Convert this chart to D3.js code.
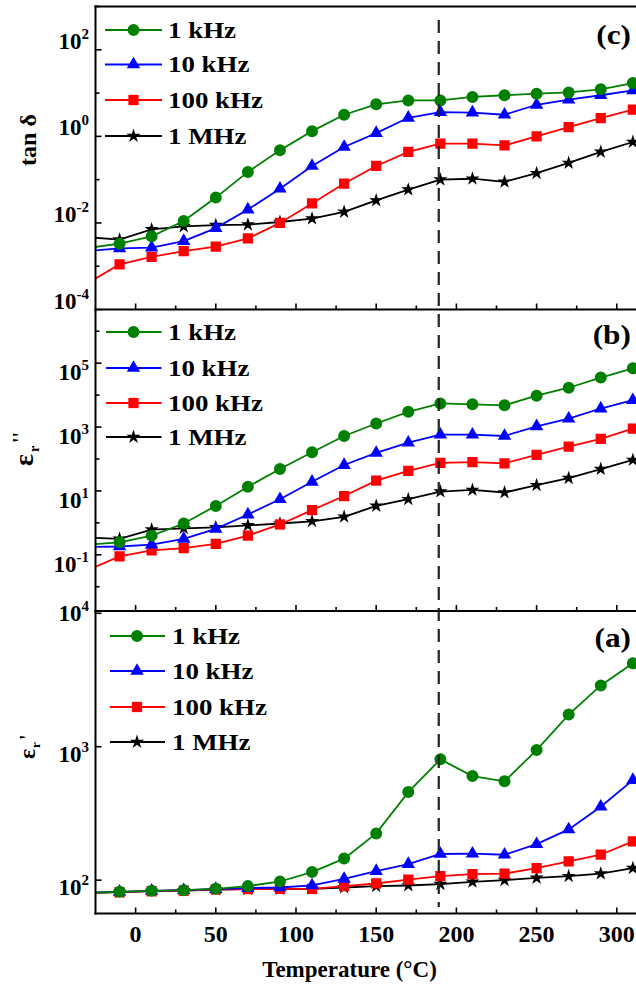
<!DOCTYPE html>
<html><head><meta charset="utf-8">
<script src="https://cdn.jsdelivr.net/npm/d3@7"></script>
<style>
body{margin:0;background:#fff}
svg{display:block}
text{font-family:"Liberation Serif","Times New Roman",serif;font-weight:bold;fill:#000}
</style>
</head><body>
<svg id="chart" width="636" height="984"></svg>
<script>
// ---------- data ----------
const temperatures = [-30,-10,10,30,50,70,90,110,130,150,170,190,210,230,250,270,290,310];
const seriesNames = ["1 kHz","10 kHz","100 kHz","1 MHz"];
const transitionTemperature = 189;
const xTickValues = [0,25,50,75,100,125,150,175,200,225,250,275,300];
const xTickLabels = [0,50,100,150,200,250,300];

// (c) tan delta
const tanDelta_1kHz   = [2.63e-3,3.31e-3,4.90e-3,1.11e-2,3.85e-2,0.151,0.479,1.32,3.16,5.50,6.76,6.76,8.13,8.91,9.66,10.35,12.2,17.0];
const tanDelta_10kHz  = [2.24e-3,2.57e-3,2.69e-3,3.80e-3,7.59e-3,2.04e-2,6.17e-2,0.207,0.569,1.19,2.69,3.63,3.55,3.16,5.37,7.08,8.91,11.5];
const tanDelta_100kHz = [4.03e-4,1.11e-3,1.64e-3,2.24e-3,2.82e-3,4.37e-3,1.00e-2,2.82e-2,8.13e-2,0.207,0.437,0.676,0.676,0.617,1.00,1.64,2.63,4.12];
const tanDelta_1MHz   = [4.68e-3,4.12e-3,7.08e-3,8.32e-3,8.91e-3,9.12e-3,1.05e-2,1.26e-2,1.80e-2,3.31e-2,5.89e-2,0.100,0.105,8.91e-2,0.141,0.243,0.437,0.741];

// (b) epsilon''
const epsImag_1kHz   = [0.209,0.245,0.398,0.955,3.39,13.5,48.4,162,525,1290,2990,5500,5130,4790,9550,17000,35500,69200];
const epsImag_10kHz  = [0.174,0.182,0.209,0.316,0.646,1.82,5.50,19.3,64.6,155,324,575,575,525,1050,1820,3800,6920];
const epsImag_100kHz = [0.0331,0.0891,0.138,0.162,0.219,0.398,0.891,2.51,6.92,20.9,42.7,75.0,79.4,73.3,135,245,427,891];
const epsImag_1MHz   = [0.347,0.316,0.617,0.676,0.724,0.832,0.955,1.12,1.55,3.39,5.50,9.55,10.7,8.91,15.1,25.1,48.4,93.3];

// (a) epsilon'
const epsReal_1kHz   = [80.4,81.7,83.2,84.1,86.1,90.2,97.7,115,145,224,457,804,603,550,944,1740,2880,4220];
const epsReal_10kHz  = [80.4,81.7,83.2,84.1,85.7,87.1,88.1,91.2,102,117,132,157,158,155,186,240,355,562];
const epsReal_100kHz = [80.4,81.3,82.8,83.6,85.1,85.5,86.1,86.1,90.2,94.4,101,107,111,112,123,138,155,195];
const epsReal_1MHz   = [80.4,81.3,82.8,83.6,85.1,85.5,85.7,86.1,88.1,90.2,91.2,93.3,97.1,100,104,107,112,123];

// ---------- style ----------
const colors = ["#008000","#0000ff","#ff0000","#000000"];
const symbols = [d3.symbolCircle, d3.symbolTriangle, d3.symbolSquare, d3.symbolStar];
const symbolSizes = [113, 78, 105, 62];

const panels = [
  {id:"c", top:6.5, bottom:309.5, domain:[1e-4, 1e3], labeled:[2,0,-2,-4], labelDy:-1,
   series:[tanDelta_1kHz,tanDelta_10kHz,tanDelta_100kHz,tanDelta_1MHz],
   legend:{x0:105,x1:162,mx:133.5,tx:168,rows:[30,64.5,100,136]}, tag:"(c)", tagY:44},
  {id:"b", top:309.5, bottom:611, domain:[Math.pow(10,-2.76), Math.pow(10,6.68)], labeled:[5,3,1,-1], labelDy:17,
   series:[epsImag_1kHz,epsImag_10kHz,epsImag_100kHz,epsImag_1MHz],
   legend:{x0:106,x1:161.5,mx:133.5,tx:168,rows:[332,368,403,437]}, tag:"(b)", tagY:344},
  {id:"a", top:611, bottom:913.5, domain:[Math.pow(10,1.75), Math.pow(10,4.017)], labeled:[4,3,2], labelDy:15,
   series:[epsReal_1kHz,epsReal_10kHz,epsReal_100kHz,epsReal_1MHz],
   legend:{x0:110,x1:165,mx:137,tx:172,rows:[636,671,707,742]}, tag:"(a)", tagY:647}
];

const svg = d3.select("#chart");
const x = d3.scaleLinear().domain([-25, 315]).range([95.5, 640.86]);
const xLeft = x(-25), xRightDraw = 660;

panels.forEach((p, pi) => {
  const y = d3.scaleLog().domain(p.domain).range([p.bottom, p.top]);
  const cid = "clip-" + p.id;
  svg.append("clipPath").attr("id", cid).append("rect")
    .attr("x", xLeft).attr("y", p.top).attr("width", xRightDraw - xLeft).attr("height", p.bottom - p.top);

  const g = svg.append("g");
  const dg = g.append("g").attr("clip-path", `url(#${cid})`);
  [3,2,1,0].forEach(i => {
    const pts = temperatures.map((t, j) => [t, p.series[i][j]]);
    dg.append("path")
      .attr("d", d3.line().x(d => x(d[0])).y(d => y(d[1]))(pts))
      .attr("fill","none").attr("stroke", colors[i]).attr("stroke-width", 1.8);
    dg.append("g").selectAll("path").data(pts).join("path")
      .attr("transform", d => `translate(${x(d[0])},${y(d[1])})`)
      .attr("d", d3.symbol(symbols[i], symbolSizes[i])())
      .attr("fill", colors[i]);
  });

  // frame
  g.append("line").attr("x1", xLeft).attr("x2", xLeft).attr("y1", p.top - (pi===0?1:0)).attr("y2", p.bottom + 1)
    .attr("stroke","#000").attr("stroke-width",2);
  g.append("line").attr("x1", xLeft - 1).attr("x2", xRightDraw).attr("y1", p.bottom).attr("y2", p.bottom)
    .attr("stroke","#000").attr("stroke-width",2);
  if (pi === 0) {
    g.append("line").attr("x1", xLeft - 1).attr("x2", xRightDraw).attr("y1", p.top).attr("y2", p.top)
      .attr("stroke","#000").attr("stroke-width",2);
  }

  // x ticks (inward)
  g.selectAll(".xt").data(xTickValues).join("line")
    .attr("x1", d => x(d)).attr("x2", d => x(d))
    .attr("y1", p.bottom).attr("y2", d => p.bottom - (d % 50 === 0 ? 6 : 4))
    .attr("stroke","#000").attr("stroke-width",1.6);

  // y ticks (decades, inward)
  const lo = Math.ceil(Math.log10(p.domain[0]) - 1e-9), hi = Math.floor(Math.log10(p.domain[1]) + 1e-9);
  const exps = d3.range(lo, hi + 1);
  g.selectAll(".yt").data(exps).join("line")
    .attr("x1", xLeft).attr("x2", e => xLeft + (p.labeled.includes(e) ? 6 : 4))
    .attr("y1", e => y(Math.pow(10, e))).attr("y2", e => y(Math.pow(10, e)))
    .attr("stroke","#000").attr("stroke-width",1.6);

  // y tick labels
  p.labeled.forEach(e => {
    const ty = y(Math.pow(10, e));
    const dy = (ty - p.top < 5) ? 8 : p.labelDy;
    const t = g.append("text").attr("x", 89).attr("y", ty + dy)
      .attr("text-anchor","end").attr("font-size", 23);
    t.append("tspan").text("10");
    t.append("tspan").attr("dy", -10).attr("font-size", 15).text(String(e));
  });

  // legend
  const L = p.legend;
  seriesNames.forEach((name, i) => {
    const ry = L.rows[i];
    g.append("line").attr("x1", L.x0).attr("x2", L.x1).attr("y1", ry).attr("y2", ry)
      .attr("stroke", colors[i]).attr("stroke-width", 1.8);
    g.append("path").attr("transform", `translate(${L.mx},${ry})`)
      .attr("d", d3.symbol(symbols[i], symbolSizes[i])()).attr("fill", colors[i]);
    g.append("text").attr("transform", `translate(${L.tx},${ry + 7.5}) scale(1.17,1)`)
      .attr("font-size", 23).text(name);
  });

  // panel tag
  g.append("text").attr("transform", `translate(631,${p.tagY}) scale(1.12,1)`)
    .attr("text-anchor","end").attr("font-size", 28).text(p.tag);
});

// x tick labels on bottom panel
svg.selectAll(".xl").data(xTickLabels).join("text")
  .attr("x", d => x(d)).attr("y", 942).attr("text-anchor","middle").attr("font-size", 24).text(d => d);

// x title
svg.append("text").attr("x", 349.5).attr("y", 977).attr("text-anchor","middle").attr("font-size", 23)
  .text("Temperature (°C)");

// y titles
svg.append("text").attr("transform","translate(36,140) rotate(-90)").attr("text-anchor","middle")
  .attr("font-size", 24).text("tan δ");

// epsilon'' (rotated frame: u along text, v downward)
const g2 = svg.append("g").attr("transform","translate(33,466) rotate(-90)");
g2.append("text").attr("x", 0).attr("y", 0).attr("font-size", 28).text("ε");
g2.append("text").attr("x", 14).attr("y", 6).attr("font-size", 14).text("r");
g2.append("text").attr("x", 23).attr("y", -6).attr("font-size", 20).text("''");

// epsilon'
const g3 = svg.append("g").attr("transform","translate(35,759) rotate(-90)");
g3.append("text").attr("x", 0).attr("y", 0).attr("font-size", 24).text("ε");
g3.append("text").attr("x", 11).attr("y", 5).attr("font-size", 13).text("r");
g3.append("text").attr("x", 19).attr("y", -1).attr("font-size", 20).text("'");

// dashed transition line
svg.append("line").attr("x1", x(transitionTemperature)).attr("x2", x(transitionTemperature))
  .attr("y1", 20).attr("y2", 907).attr("stroke","#222").attr("stroke-width",2.2)
  .attr("stroke-dasharray","13,8");
</script>
</body></html>
